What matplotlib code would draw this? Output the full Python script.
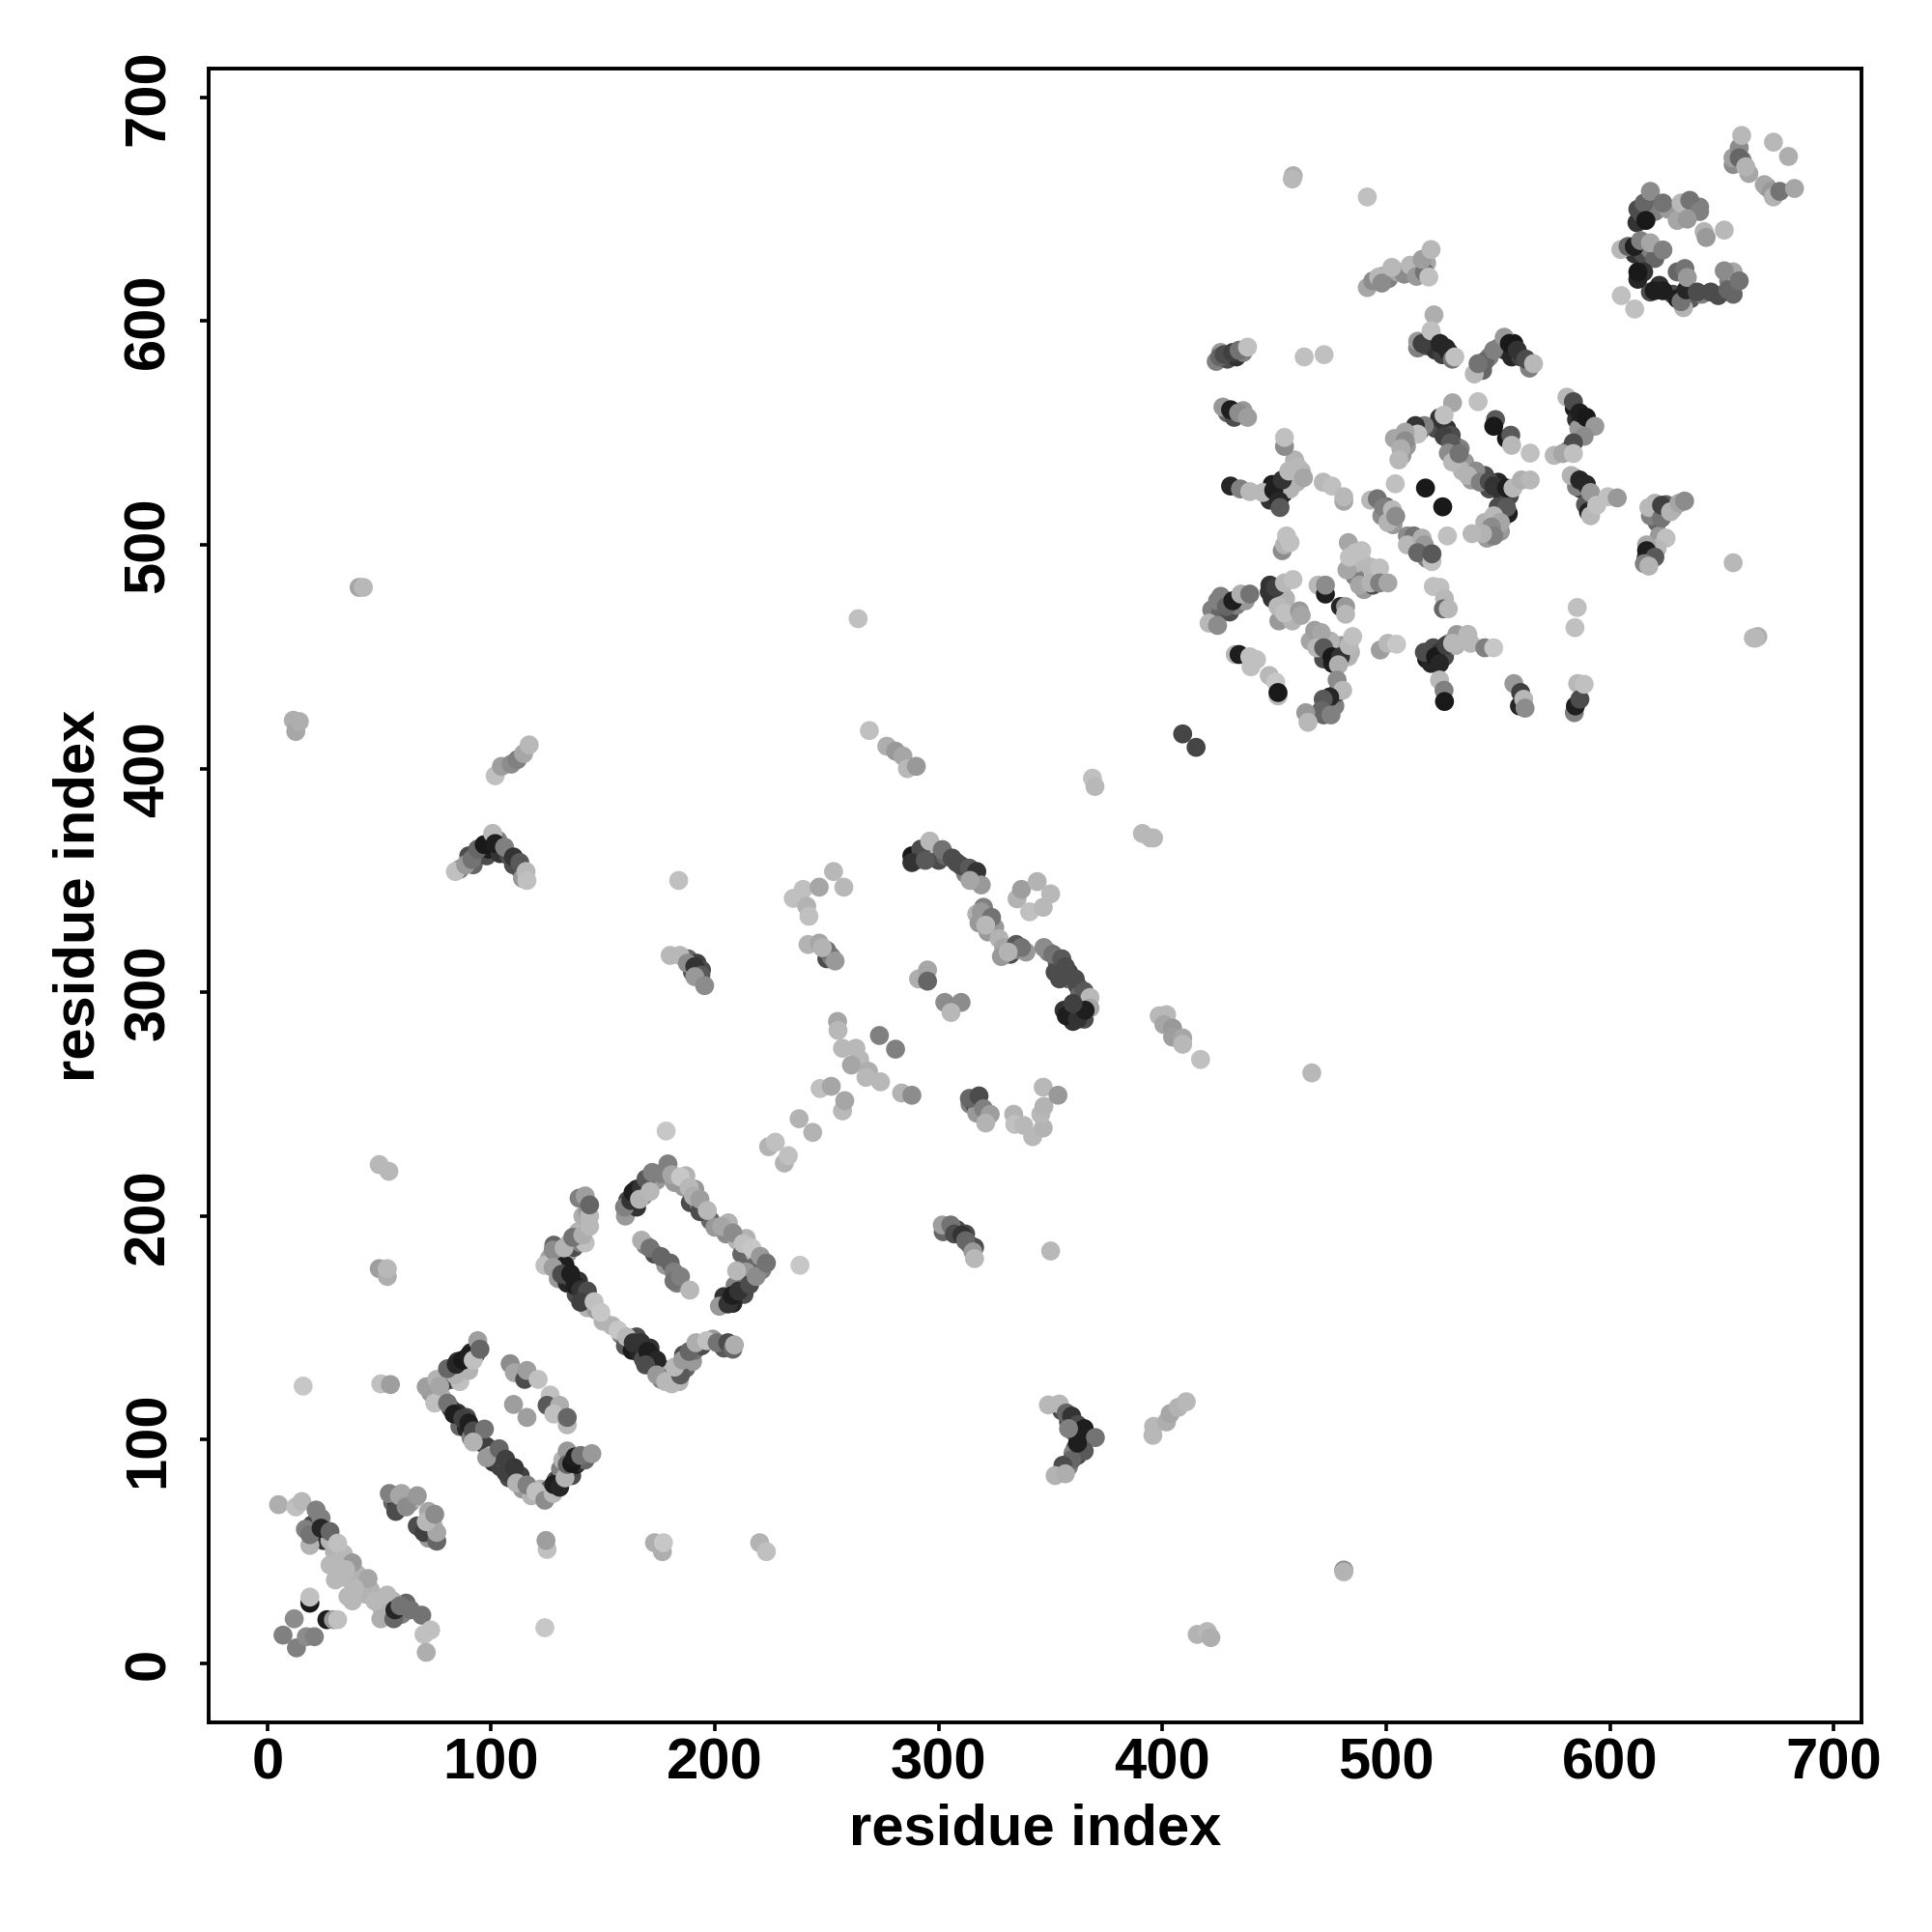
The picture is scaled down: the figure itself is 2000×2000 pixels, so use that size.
import matplotlib
matplotlib.use("Agg")
import matplotlib.pyplot as plt
import numpy as np

# contacts: (residue i, residue j, grey level)
corner_x = [(5,71,.68),(12.7,70,.75),(15.4,72.4,.72),(21.8,68.6,.5),(19,52.8,.7),(19,57.6,.45),(24,60.5,.15),(28,59,.4),
            (31.4,53.8,.75),(33,46,.72),(38,45,.6),(30.4,37.4,.72),(35,42,.72),(45,38,.65),(36,30,.72),(39,33.5,.72),
            (48,28,.72),(53.5,30.6,.72),(50.7,20,.68),(56.5,20,.4),(57,24,.15),(59.3,25.8,.45),(64,24,.45),(69,21.6,.45),
            (73,15,.75),(70,13,.75),(71,5,.68),(19,27,.1),(19,29.7,.75),(12,20,.55),(7,12.7,.5),(13,7,.5),(17.4,12,.55),
            (21,12,.5),(26.6,19.6,.12),(29.5,19.6,.6),(31.4,19.6,.75)]
corner_b = [(54.5,76,.5),(57.4,68,.3),(59,75,.65),(62,70,.55),(67,75,.6),(67,61.5,.3),(70,58.6,.25),(75.7,54.7,.4),
            (75.7,58.6,.65),(71,63.4,.72),(74.8,66.7,.55)]
singles_low = [(16,124,.78),(50.7,125,.75),(55,124.7,.62),(50,223,.72),(54.3,220,.72),(50,176.5,.62),(53.6,173,.68),
               (53.6,176.5,.72),(125,51,.75),(124.5,55,.62),(124,16,.78),(173,54,.68),(176.5,50,.68),(177,54,.78),
               (220,54,.7),(223,50,.75),(178.2,238,.78),(224,231,.7),(227,233,.75),(231,223.7,.7),(232.8,227,.75),
               (237.6,243.5,.7),(243.7,237.4,.7),(238,178,.78),(247,257,.75),(252,258,.65),(257,247,.72),(258,251.6,.65)]
box_one = [(71,123.7,.62),(75.7,127,.7),(74.8,116.4,.75),(77,124,.65),(84,129,.7),(80.5,131.8,.4),(84.4,133.7,.15),
           (87.3,135.6,.1),(90,137.6,.12),(92,135.6,.75),(94,144.3,.62),(95,140.5,.4),
           (80.5,116.4,.45),(83.4,111.5,.12),(87.3,109.6,.25),(90,107.5,.12),(92,104,.3),(97,104.8,.45),(92,99,.7),
           (98,92,.6),(103.6,96,.4),(106.5,91.3,.25),(106.5,85.5,.25),(110.4,87.5,.22),(111.4,80.7,.7),(116,79.8,.5),
           (120,76.9,.75),(124,73,.55),(127.7,76,.72),(128,80,.12),(130.6,78.8,.15),(133,83,.7),(134,89,.4),(136,89.4,.1),
           (137.4,92.3,.12),(140,93,.45),(145,93.8,.6)]
box_one_in = [(108.5,134,.55),(110.4,130,.65),(115,127,.3),(116,131,.62),(121,127,.75),(126.4,120,.75),(125,115.4,.35),
              (130.6,115.4,.68),(128,111.5,.75),(134,106.7,.72),(134,110,.4),(110,115.8,.62),(116,110,.62)]
box_two = [(124,178,.75),(127.7,184.8,.55),(132.6,185.8,.7),(136.5,190.5,.45),(141,191.5,.68),(144,195.4,.72),
           (144,200,.72),(139.3,208,.5),(142,209,.62),(144,205,.4),
           (127.7,177,.62),(131.5,174,.3),(135.5,174.2,.12),(137.4,169,.12),(140,167,.2),(143,166.5,.3),(140,161.5,.25),
           (146,161.7,.75),(149,157,.78),(156.7,149,.78),(160.5,146,.72),(163.5,143.4,.2),(167,143.4,.2),(170,139.5,.12),
           (174,135.6,.15),(169,133.5,.3),(174,129,.6),(178,126,.72),(180.7,125,.72),(184.6,129,.35),(182,132.5,.72),
           (185.6,135.6,.6),(188.5,139.5,.4),(191.5,143.4,.68),(196.3,144.3,.75),(201,143.4,.45),(205.8,143.4,.3),
           (208,140.5,.4),(208.7,142.4,.68),
           (159.6,204,.5),(162.4,207,.2),(163.4,210.6,.12),(167.2,212.7,.2),(166.3,207.5,.7),(169.2,216.6,.35),
           (172,219.5,.5),(171,211,.72),(179,223.3,.5),(180.7,218.5,.65),(184.6,217.5,.78),(188.5,212.7,.72),
           (190.4,208.9,.68),(193.3,202,.3),(193.3,207.5,.62),(196.6,202.5,.72),(203,195.4,.65),(208,192.5,.55),
           (212.6,187.7,.75),(216.5,185.7,.78),(202,159.7,.6),(205.8,160.7,.2),(207.7,164.5,.12),(210.6,166.5,.2),
           (215.5,169.4,.3),(218.4,173,.55),(209.7,175.5,.72),(220.3,182,.6),(223,179,.45)]
box_two_in = [(167.2,189.2,.68),(171,185.7,.45),(175.9,181.9,.4),(181.7,175,.5),(181.7,171,.45),(184.6,173,.5),(188.8,166.9,.72)]
mid_a = [(254.8,287,.65),(255,283,.72),(257,275,.72),(263,275,.72),(264.7,270,.72),(261,267.5,.65),(268.6,264.7,.68),
         (274,260,.72),(267.5,262,.72),(273.5,280.7,.5),(280.7,274.6,.5),(283.4,255,.7),(288,254,.55),(264,467,.75),
         (235,342,.75),(239.4,346,.75),(246.6,347,.65),(253,354,.72),(257.6,347,.72),(241,338.5,.7),(242,334,.75),
         (241.6,321.4,.7),(246.6,322,.65),(250,318.7,.45),(253.7,314,.6),(248,320,.7),
         (180,316.5,.72),(184.4,316.5,.72),(187.7,313,.55),(191,311.5,.2),(193.7,307.6,.35),(191,307,.6),(195.4,303,.55),
         (183.8,350,.75),(269,417,.75),(276.8,410,.68),(280.7,407.8,.6),(284,405.6,.65),(286,400,.72),(290,401,.6)]
mid_b = [(288,361,.1),(292,364,.3),(296,367.6,.72),(288,358,.2),(294,359,.35),(301.6,363.8,.45),(306,360,.3),(310,356.6,.3),
         (313.7,355.5,.35),(317,354,.2),(319,348,.6),(314,350,.65),(319,336,.6),(318,331,.6),(323.6,333.5,.45),(321,330,.72),
         (329,320,.65),(328,316,.6),(334.6,321.4,.35),(337,320,.45),(331,318,.7),
         (347,320,.55),(351,317,.45),(355,315,.35),(356.6,311.5,.3),(361,306,.3),(365,300.5,.35),(367.6,297.7,.72),
         (367.6,293,.65),(357,289.5,.12),(362,288,.2),(365.4,292,.12),(360,295,.25),
         (335,341.8,.7),(337,346,.62),(344,349.5,.7),(350,344,.72),(340.6,336,.75),(346.7,338,.72),
         (291,306,.68),(295,310,.65),(295,305,.4),(302.7,295.5,.55),(310,295.5,.55),(305.5,291,.72)]
mid_c = [(313.7,252.6,.4),(318,253.7,.3),(320,248,.5),(323,245.5,.62),(321,241.6,.7),(333.5,245.5,.7),(334,241,.75),
         (338,240.5,.72),(342,235.5,.72),(346.7,239.4,.7),(345.6,245.5,.72),(347,249,.7),(346.7,257.6,.72),(353.3,254,.6),
         (301.6,196,.62),(305.4,196,.45),(307,192,.3),(310.4,191.5,.2),(312,189,.4),(315.3,184,.6),(316,181,.72),(350,184.4,.72),
         (349,115.6,.72),(353.9,116,.72),(357,112,.4),(359.4,110.6,.2),(362,106.8,.3),(365,105,.12),(370,101,.45),(365,95,.35),
         (359.4,91,.4),(355.5,88.6,.3),(352,84,.7),(356.6,84.8,.68),(362,98.5,.12),(358,105,.5),
         (395.7,102,.72),(396,106,.72),(401.8,108,.68),(403.4,111.7,.65),(407,114.5,.7),(410.6,117,.72)]
mid_d = [(398.5,289.5,.72),(401.8,290,.72),(400.6,285.6,.65),(404.5,284,.6),(404.5,280,.62),(409,279.6,.65),(409,276.8,.72),
         (417,270,.75),(466.7,264,.72),(391,371,.72),(394.6,369,.72),(396,369,.72),(368.7,395.7,.75),(369.8,392,.72),
         (409,415.5,.27),(415,409.5,.27),
         (84,354,.75),(88.6,357,.6),(91.4,359.4,.45),(94,364,.4),(96.9,366,.1),(100.7,371,.72),(101.8,366.5,.12),(106,364.9,.5),
         (110,360.5,.2),(112.8,358,.35),(115.6,354,.72),(116,350,.75),
         (101.8,396.8,.75),(104.6,401,.62),(109,402,.55),(111.7,404,.5),(114.5,406.7,.65),(117,410.6,.72),
         (11.6,421.6,.68),(12.7,416.6,.65),(14.3,421,.68),(41,481,.65),(42.9,481,.72),(458.4,665,.68),(458,663.5,.72),
         (481,41.8,.55),(481,41,.7),(415.5,13,.7),(420,14.3,.72),(421.6,11.6,.68),(655,492,.72),(664,458.4,.72),(666,459,.68)]
block_upper = [(425.6,584,.4),(427.5,585,.3),(431.4,586,.25),(434.2,587,.45),(438,588.4,.75),(463.3,584,.75),(472.2,585,.75),
               (427,561.6,.6),(430.4,560.4,.12),(434,559,.55),(438,557,.62),
               (430.4,526.3,.15),(434.8,525,.5),(439,523.8,.72),(444.8,523.4,.72),(449.7,524.4,.12),(452,519.6,.15),
               (452.5,516.7,.35),(453.5,529,.2),(456.4,533,.72),(460.3,535,.72),(463,530,.65),(454.5,544,.55),(454.5,548,.75),
               (471.8,528,.72),(475.7,526.3,.75),(481,519.5,.65),(481,521.5,.72),
               (453.5,497.4,.55),(454.5,500,.7),(455.4,504,.75),(457,501,.75)]
block_lower = [(424.6,475,.5),(428.5,472.4,.4),(431.4,475,.12),(435,478,.68),(439,478,.45),(420.8,465,.72),(424.6,464,.55),
               (447.7,479,.2),(450.6,481,.25),(454.5,483,.72),(458.3,484.5,.75),(451.6,472.4,.72),(454.5,469.5,.75),
               (461.2,470.5,.6),(462,468.5,.65),(469.5,482,.72),(472.8,478,.12),(472.8,482,.55),(479.5,472.4,.15),
               (481.8,472.4,.6),(481.8,469,.72),(468,461.8,.62),(470.9,460.8,.65),(469,454,.72),(472,454,.35),(475.7,450,.1),
               (479.5,450,.2),(483.4,455,.72),(485,459,.75),(478.6,446.4,.68),
               (432.5,451,.72),(434.2,451,.12),(439,450,.75),(442,448.7,.75),(439.5,445.5,.75),(447.7,441.6,.72),
               (450.6,438.7,.78),(451.6,432.5,.72),(451.6,434,.1),
               (478,439.6,.55),(480.5,435,.72),(474.7,432,.15),(471.8,431,.35),(470.9,426,.4),(475.3,424,.5),(464,425,.6),(465,420.7,.72)]
block_mid = [(483,501,.65),(482.4,488.8,.65),(486.3,496.5,.75),(489,497.4,.75),(483.5,494.5,.75),(488,482,.65),(493,483,.7),
             (497,489.7,.75),(497,483,.5),(500.7,483,.65),(497.3,453,.62),(500.7,456,.72),(504.6,455.6,.78),
             (521,481.4,.75),(524,481,.75),(526,476,.72),(525.5,471.4,.4),(527.7,471.4,.72),
             (517,452,.3),(522,450,.1),(523.8,447,.15),(526.7,455,.25),(531.5,459.9,.6),(529.6,456,.72),(536.4,460,.72),(537.7,456,.72),
             (544,454,.5),(548,454,.78),(523.8,439.6,.72),(525.8,435,.5),(526,430,.1),
             (557,438,.6),(560,434,.25),(559.5,428,.15),(561.4,431,.72),(562,427,.55),
             (585.5,438,.72),(584,425,.5),(584.5,428,.12),(586.5,431,.3),(588.4,437.7,.75),(585.3,472,.75),(584.3,463,.75),(664.9,458.3,.72)]
block_ring = [(521.3,602.8,.68),(514,591,.6),(516,590,.25),(520,595.7,.75),(524,590,.15),(526.7,588,.15),(529.5,583,.45),(530.6,584,.75),
              (539.3,576.4,.72),(544,582,.4),(541,581,.45),(548,587,.5),(552.7,592.8,.6),(555,590,.1),(558.5,587,.2),(562.4,583,.3),(565.8,581,.72),
              (541,564,.75),(529.6,563.5,.65),(523.8,556.8,.2),(525.8,558,.75),(517,553.3,.5),(513,553.3,.2),(514,549.5,.75),
              (508.4,550.4,.65),(503.6,547.5,.65),(508.4,546.5,.55),(506.5,543,.68),(505.6,538,.72),
              (525.8,548.5,.25),(528.7,545.6,.35),(527.7,541,.55),(529.6,537,.72),(532.5,540.8,.45),
              (548.8,556,.35),(548,553,.1),(553.7,547.5,.1),(555.6,549,.35),(556,544.5,.72),(564.3,541,.75),
              (540,533,.55),(536.4,531,.7),(542,528,.5),(546,528.3,.3),(548,526.3,.2),(553.7,525.4,.12),(556.6,525.4,.72),(560.4,529,.68),(564.3,529,.72),
              (554.5,514,.12),(553.7,516.7,.35),(548,513,.72),(551,510,.65),(547,508,.55),(548,504,.5),(543,505,.7),(538.3,505,.72),
              (517.5,525.4,.1),(525.2,517,.1),(504,527.3,.75),(527.3,504,.75),
              (493,520,.72),(496,520.6,.45),(498.8,516.7,.5),(500.7,510,.7),(502.7,515.7,.72),(504.2,512.8,.55),
              (509.4,504,.55),(512.3,504,.45),(509.4,500,.72),(516,503,.68),(517,500,.6),(514,496.5,.4),(520.4,492.5,.75),(520.4,496,.35)]
block_right = [(580.7,566,.72),(583.6,564,.3),(586.4,559,.12),(589.4,557,.1),(593.2,553,.6),(588.4,548.5,.55),(583.6,545.6,.3),
               (575,540,.72),(578.8,540.8,.65),(583.6,540.8,.75),
               (582.6,531,.7),(586.4,529,.15),(589.4,527,.15),(591.3,523.4,.6),(590.3,514.8,.15),(591.3,513,.72),(594,517.7,.75),(599,521.5,.75),(603.2,521,.6),
               (620,518.6,.7),(617.3,516.7,.72),(623,512,.45),(623,517.7,.25),(627,514.8,.7),(630.8,518.6,.65),(633.3,519.6,.55),
               (625,503,.75),(621,498.4,.72),(616.3,500,.65),(616.3,497.4,.12),(620,494.5,.35),(615.3,491.6,.5),(617.3,490.5,.7)]
top_right = [(491.5,615,.65),(494,618,.55),(496.6,619.7,.72),(498,617,.55),(502.5,624,.72),(510.7,625,.72),(513.5,620,.6),
             (517,622,.45),(516,627.6,.62),(519,619.7,.75),(520,632,.72),(491.5,655.5,.75),(605,611.4,.75),(611,605.4,.75),
             (604.8,632,.72),(608,633.4,.4),(610.8,633.4,.12),(612.4,650,.3),(615.2,652.8,.4),(616,645,.1),(618,658,.55),
             (623.6,652.8,.45),(613.6,636,.5),(618,635,.65),(623.6,631.8,.5),(612.4,618.7,.15),(612.4,622,.1),(619.7,613.6,.12),
             (623.6,613.6,.12),(632.8,606,.7),(631.7,608.7,.45),(634,614,.15),(631.7,652.8,.72),(635.6,654,.45),(640,649,.5),
             (634.5,645.6,.6),(642.9,637.4,.6),(651,640.7,.72),(633.4,623.5,.45),(634.5,619.5,.6),(638.9,613,.3),(648.3,611.4,.3),
             (652.7,614,.4),(651,622.5,.55),(657.7,618,.45),
             (654.9,673,.62),(657.7,677.5,.55),(657.7,673,.4),(658.8,683,.72),(660.6,669,.7),(673,680,.72),(679.7,673.6,.68),
             (668.9,661,.65),(672,658,.6),(673,655.5,.7),(675.8,658,.45),(682.4,659.3,.65)]

# contacts hidden in the thick stretches, drawn underneath the others
under_low = [(73,121,.6),(76,120,.7),(78,125,.4),(79,128,.6),(82,127,.25),(83,131,.3),(86,131,.2),(88,133,.6),(85,135,.2),(89,136,.25),
             (91,139,.15),(93,138,.3),(86,126,.75),(90,131,.7),(78,119,.7),(82,114,.3),(85,112,.2),(86,106,.4),(89,105,.15),(89,110,.3),
             (91,101,.5),(94,102,.2),(95,99,.3),(98,97,.25),(100,93,.7),(101,90,.2),(104,92,.3),(104,88,.25),(107,87,.4),(108,83,.3),
             (113,84,.25),(114,78,.6),(118,75,.7),(122,78,.7),(126,78,.4),(129,82,.35),(131,84,.2),(134,86,.15),(131,87,.5),(136,84,.3),
             (138,89,.1),(135,93,.2),(139,90,.2),(132,91,.7),(134,95,.6),(142,91,.4),
             (20,62,.3),(17,60,.5),(22,56,.4),(25,55,.2),(28,55,.7),(24,65,.5),(30,50,.7),(34,49,.72),(28,44,.72),(36,38,.72),(40,40,.7),
             (42,35,.7),(44,31,.7),(46,33,.7),(38,28,.72),(51,25,.72),(54,25,.5),(55,22,.3),(58,23,.2),(60,22,.5),(62,27,.4),(52,22,.7),(56,28,.7),
             (56,72,.4),(58,71,.2),(60,70,.6),(64,72,.6),(66,74,.7),(69,60,.2),(72,56,.6),(73,60,.3),(72,68,.65),(74,62,.7),(60,76,.65),(63,73,.7)]
under_box = [(126,181,.65),(129,180,.7),(131,182,.45),(128,187,.4),(134,183,.6),(135,188,.72),(137,186,.3),(140,188,.5),(139,193,.7),
             (142,197,.72),(142,188,.75),(141,200,.68),(143,202,.6),(130,172,.6),(133,178,.12),(134,170,.15),(136,172,.3),(139,171,.2),
             (138,165,.3),(141,164,.15),(144,162,.3),(143,159,.7),(147,158,.6),(150,153,.7),(154,151,.7),(158,147,.5),(160,142,.35),
             (163,140,.1),(165,146,.3),(166,139,.15),(168,136,.3),(171,141,.2),(172,133,.25),(172,137,.1),(176,132,.2),(177,129,.7),
             (176,127,.5),(180,128,.3),(182,129,.4),(184,126,.7),(187,132,.4),(186,138,.3),(190,135,.6),(191,140,.45),(194,142,.3),
             (199,145,.6),(204,141,.35),(160,200,.6),(161,207,.3),(165,204,.2),(165,212,.15),(168,209,.5),(170,213,.2),(168,213,.12),
             (174,216,.6),(176,219,.5),(182,215,.6),(186,213,.6),(187,218,.7),(189,206,.3),(191,212,.6),(193,205,.5),(198,198,.4),
             (200,195,.6),(205,192,.55),(206,197,.7),(210,189,.7),(212,183,.4),(214,190,.7),(218,183,.7),(221,176,.5),(217,177,.4),
             (213,172,.2),(211,170,.12),(213,165,.3),(208,161,.15),(204,164,.2),(209,169,.5),(214,175,.6),(169,187,.5),(173,183,.3),
             (178,178,.6),(183,170,.5),(180,179,.4)]
under_mid = [(290,359,.6),(294,364,.72),(298,362,.72),(300,359,.3),(303,361,.4),(308,358,.3),(312,353,.5),(316,351,.4),(320,338,.5),
             (317,335,.7),(322,327,.6),(325,329,.6),(327,324,.7),(332,317,.3),(335,319,.5),(339,318,.6),(349,318,.5),(353,313,.35),
             (358,309,.25),(358,306,.4),(362,303,.3),(363,299,.4),(366,295,.6),(360,291,.15),(356,292,.2),(352,309,.3),(354,306,.3),
             (360,287,.2),(365,288,.3),(355,113,.3),(358,108,.3),(360,104,.2),(363,101,.2),(364,100,.12),(362,93,.3),(361,96,.3),
             (358,88,.5),(360,94,.5),(314,250,.5),(316,250,.3),(317,246,.6),(302,193,.4),(308,194,.3),(312,192,.3),(314,187,.4),(316,186,.3),
             (86,355,.5),(90,361,.3),(92,357,.4),(96,363,.2),(98,361,.3),(99,364,.12),(104,362,.2),(103,368,.5),(108,361,.3),(110,357,.3),
             (113,355,.3),(114,351,.6),(188,315,.4),(190,309,.3),(192,313,.25),(194,310,.3),(250,315,.3),(252,316,.5)]
under_high = [(424,582,.5),(426,586,.6),(429,583,.3),(433,584,.2),(436,586,.5),(429,559,.4),(432,557,.3),(436,560,.6),
              (449,527,.12),(451,522,.1),(448,520,.2),(454,523,.15),(455,527,.4),(457,529,.6),(457,525,.7),(462,533,.7),(459,538,.7),(460,528,.7),
              (422,471,.5),(426,470,.4),(426,477,.5),(430,470,.3),(433,473,.5),(437,475,.6),(449,476,.2),(448,482,.2),(451,478,.15),
              (453,476,.7),(455,476,.7),(452,466,.6),(458,466,.7),(466,457,.65),(472,449,.3),(476,453,.2),(476,447,.12),(481,452,.3),
              (483,450,.7),(480,455,.6),(484,452,.7),(475,457,.7),(518,449,.1),(521,454,.3),(520,447,.15),(524,452,.2),(526,450,.3),
              (528,456,.6),(531,455,.7),(475,428,.4),(472,424,.4),(473,427,.3),(477,428,.5),(478,434,.3),(486,486,.5),(490,480,.6),
              (494,482,.3),(495,486,.7),(493,490,.72),(487,492,.7),(485,498,.7),(489,493,.72),
              (509,544,.6),(511,549,.4),(515,551,.3),(507,540,.6),(522,552,.3),(527,552,.2),(529,549,.3),(531,544,.3),(533,543,.5),
              (535,537,.6),(534,533,.7),(538,529,.6),(544,531,.3),(546,525,.3),(550,528,.15),(552,522,.2),(555,522,.3),(551,506,.6),
              (552,512,.5),(544,510,.7),(545,503,.6),(550,517,.3),(498,513,.55),(500,517,.4),(503,509,.6),(510,501,.6),(513,501,.5),
              (516,496,.35),(518,494,.5),(514,588,.5),(518,589,.3),(521,592,.6),(522,587,.2),(525,585,.25),(528,586,.15),(543,578,.4),
              (546,584,.5),(550,588,.5),(553,587,.2),(557,590,.1),(556,584,.15),(560,584,.25),(564,579,.5),
              (584,561,.12),(585,556,.2),(587,555,.1),(590,554,.3),(586,552,.6),(581,542,.5),(584,530,.3),(587,525,.2),(585,526,.5),
              (592,518,.6),(589,518,.35),(620,515,.3),(621,510,.4),(618,513,.5),(625,518,.4),(628,516,.6),(618,498,.5),(618,493,.45),
              (616,494,.3),(620,499,.2),(622,504,.6),
              (612,644,.2),(614,648,.3),(617,651,.3),(620,649,.5),(611,630,.2),(615,630,.3),(618,632,.5),(620,628,.4),(615,622,.2),
              (618,613,.3),(622,616,.2),(628,612,.3),(630,610,.12),(636,610,.35),(641,612,.5),(645,613,.3),(653,618,.5),(655,612,.4),
              (655,622,.65),(630,622,.4),(640,651,.5),(626,650,.6),(642,640,.7),(630,645,.65),(655,670,.55),(659,672,.5),(662,666,.65),
              (670,660,.5),(498,620,.6),(501,619,.5),(505,622,.65),(508,621,.55),(515,624,.5),(518,626,.65)]

x_ticks = [0, 100, 200, 300, 400, 500, 600, 700]
y_ticks = [0, 100, 200, 300, 400, 500, 600, 700]

plt.rcParams['font.family'] = ['Liberation Sans', 'DejaVu Sans']
plt.rcParams['font.weight'] = 'bold'

contacts = np.array(under_low + under_box + under_mid + under_high
                    + corner_x + corner_b + singles_low + box_one + box_one_in + box_two + box_two_in
                    + mid_a + mid_b + mid_c + mid_d + block_upper + block_lower + block_mid
                    + block_ring + block_right + top_right)

fig = plt.figure(figsize=(10, 10), dpi=200)
ax = fig.add_axes([0.1078, 0.1085, 0.8559, 0.8558])

ax.scatter(contacts[:, 0], contacts[:, 1], c=contacts[:, 2], cmap='gray', vmin=0, vmax=1, s=50, linewidths=0)

ax.set_xlim(-26.4, 712.5)
ax.set_ylim(-26.3, 712.7)
ax.set_xticks(x_ticks)
ax.set_yticks(y_ticks)
ax.tick_params(axis='x', length=3.2, width=1.3, labelsize=21.5, pad=2.2)
ax.tick_params(axis='y', length=3.2, width=1.3, labelsize=21.5, pad=9)
for lab in ax.get_yticklabels():
    lab.set_rotation(90)
    lab.set_va('center')
for s in ax.spines.values():
    s.set_linewidth(1.4)

ax.set_xlabel("residue index", fontsize=21.5, fontweight='bold', labelpad=4.7)
ax.set_ylabel("residue index", fontsize=21.5, fontweight='bold', labelpad=6.3)

fig.savefig("out.png", dpi=200, facecolor='white')
